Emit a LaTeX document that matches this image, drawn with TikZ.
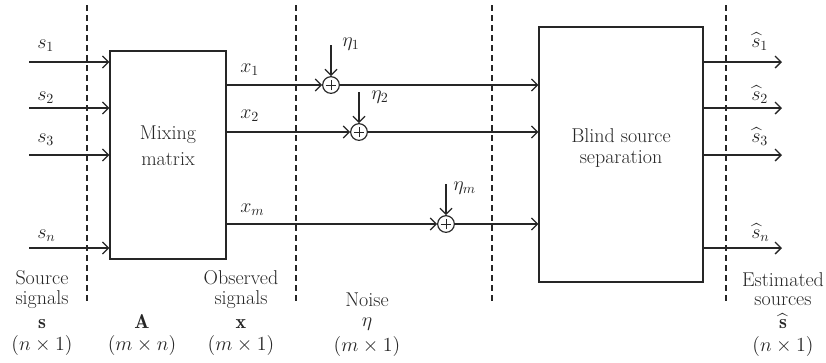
\RequirePackage{fix-cm}
\documentclass[tikz,border=0pt]{standalone}
\usepackage{amsmath}
\usepackage{fontspec}
\usetikzlibrary{arrows.meta}
\begin{document}
\begin{tikzpicture}[x=0.75pt,y=-0.75pt,
  every node/.style={font=\fontsize{15}{16}\selectfont, text=black!85, inner sep=0pt},
  line/.style={draw=black!85, line width=0.95pt},
  arr/.style={line, -{Straight Barb[length=4.5pt,width=9pt,line width=0.95pt]}},
  sep/.style={draw=black!85, line width=0.85pt, dash pattern=on 4.5pt off 3pt},
  blk/.style={draw=black!85, line width=0.95pt, fill=white},
  sum/.style={circle, draw=black!85, line width=0.85pt, minimum size=12.5pt,
    path picture={\draw[black!85, line width=0.6pt]
      ([xshift=-4pt]path picture bounding box.center) -- ([xshift=4pt]path picture bounding box.center)
      ([yshift=-4pt]path picture bounding box.center) -- ([yshift=4pt]path picture bounding box.center);}},
  lbl/.style={anchor=base west},
  bot/.style={anchor=base}
]
\useasboundingbox (0,0) rectangle (826,362);

% dashed separators
\coordinate (d1t) at (87,5);   \coordinate (d1b) at (87,305);
\coordinate (d2t) at (296,5);  \coordinate (d2b) at (296,305);
\coordinate (d3t) at (492,5);  \coordinate (d3b) at (492,305);
\coordinate (d4t) at (726,5);  \coordinate (d4b) at (726,305);
\draw[sep] (d1t) -- (d1b);
\draw[sep] (d2t) -- (d2b);
\draw[sep] (d3t) -- (d3b);
\draw[sep] (d4t) -- (d4b);

% blocks
\node[blk, minimum width=87pt, minimum height=156pt] (mix) at (168,155) {};
\node[blk, minimum width=123pt, minimum height=191.25pt] (bss) at (621,154.5) {};
\node[align=center, font=\fontsize{15}{19.5}\selectfont] (mixtxt) at (168,146) {Mixing\\matrix};
\node[align=center, font=\fontsize{15}{16}\selectfont] (bsstxt) at (621,148) {Blind source\\separation};

% inputs
\coordinate (in1) at (29,62);
\coordinate (in2) at (29,108);
\coordinate (in3) at (29,155);
\coordinate (inn) at (29,248);
\draw[arr] (in1) -- (in1 -| mix.west);
\draw[arr] (in2) -- (in2 -| mix.west);
\draw[arr] (in3) -- (in3 -| mix.west);
\draw[arr] (inn) -- (inn -| mix.west);
\node[lbl] (ls1) at (37,48) {$s_1$};
\node[lbl] (ls2) at (37,100) {$s_2$};
\node[lbl] (ls3) at (37,142) {$s_3$};
\node[lbl] (lsn) at (37,238) {$s_n$};

% sums
\node[sum] (p1) at (331,85) {};
\node[sum] (p2) at (359,132) {};
\node[sum] (pm) at (446,224) {};
\draw[arr] (p1 -| mix.east) -- (p1);
\draw[arr] (p2 -| mix.east) -- (p2);
\draw[arr] (pm -| mix.east) -- (pm);
\draw[arr] (p1) -- (p1 -| bss.west);
\draw[arr] (p2) -- (p2 -| bss.west);
\draw[arr] (pm) -- (pm -| bss.west);
\node[lbl] (lx1) at (240,72) {$x_1$};
\node[lbl] (lx2) at (240,118) {$x_2$};
\node[lbl] (lxm) at (240,212) {$x_m$};

% noise
\coordinate (n1) at (331,45);
\coordinate (n2) at (359,92);
\coordinate (nm) at (446,184);
\draw[arr] (n1) -- (p1);
\draw[arr] (n2) -- (p2);
\draw[arr] (nm) -- (pm);
\node[lbl] (le1) at (342,46) {$\eta_1$};
\node[lbl] (le2) at (371,99) {$\eta_2$};
\node[lbl] (lem) at (453,190) {$\eta_m$};

% outputs
\coordinate (o1) at (782,62);
\coordinate (o2) at (782,108);
\coordinate (o3) at (782,155);
\coordinate (on) at (782,248);
\draw[arr] (o1 -| bss.east) -- (o1);
\draw[arr] (o2 -| bss.east) -- (o2);
\draw[arr] (o3 -| bss.east) -- (o3);
\draw[arr] (on -| bss.east) -- (on);
\node[lbl] (lh1) at (751,47) {$\widehat{s}_1$};
\node[lbl] (lh2) at (751,100) {$\widehat{s}_2$};
\node[lbl] (lh3) at (751,142) {$\widehat{s}_3$};
\node[lbl] (lhn) at (751,238) {$\widehat{s}_n$};

% bottom captions
\node[bot] (c1a) at (42,284) {Source};
\node[bot] (c1b) at (42,304) {signals};
\node[bot] (c1c) at (42,328) {$\mathbf{s}$};
\node[bot] (c1d) at (42,350) {$(n\times 1)$};

\node[bot] (c2c) at (142,328) {$\mathbf{A}$};
\node[bot] (c2d) at (142,350) {$(m\times n)$};

\node[bot] (c3a) at (241,284) {Observed};
\node[bot] (c3b) at (241,304) {signals};
\node[bot] (c3c) at (241,328) {$\mathbf{x}$};
\node[bot] (c3d) at (241,350) {$(m\times 1)$};

\node[bot] (c4a) at (367,306) {Noise};
\node[bot] (c4c) at (367,326) {$\eta$};
\node[bot] (c4d) at (367,351) {$(m\times 1)$};

\node[bot] (c5a) at (783,286) {Estimated};
\node[bot] (c5b) at (783,305) {sources};
\node[bot] (c5c) at (783,328) {$\widehat{\mathbf{s}}$};
\node[bot] (c5d) at (783,351) {$(n\times 1)$};
\end{tikzpicture}
\end{document}
